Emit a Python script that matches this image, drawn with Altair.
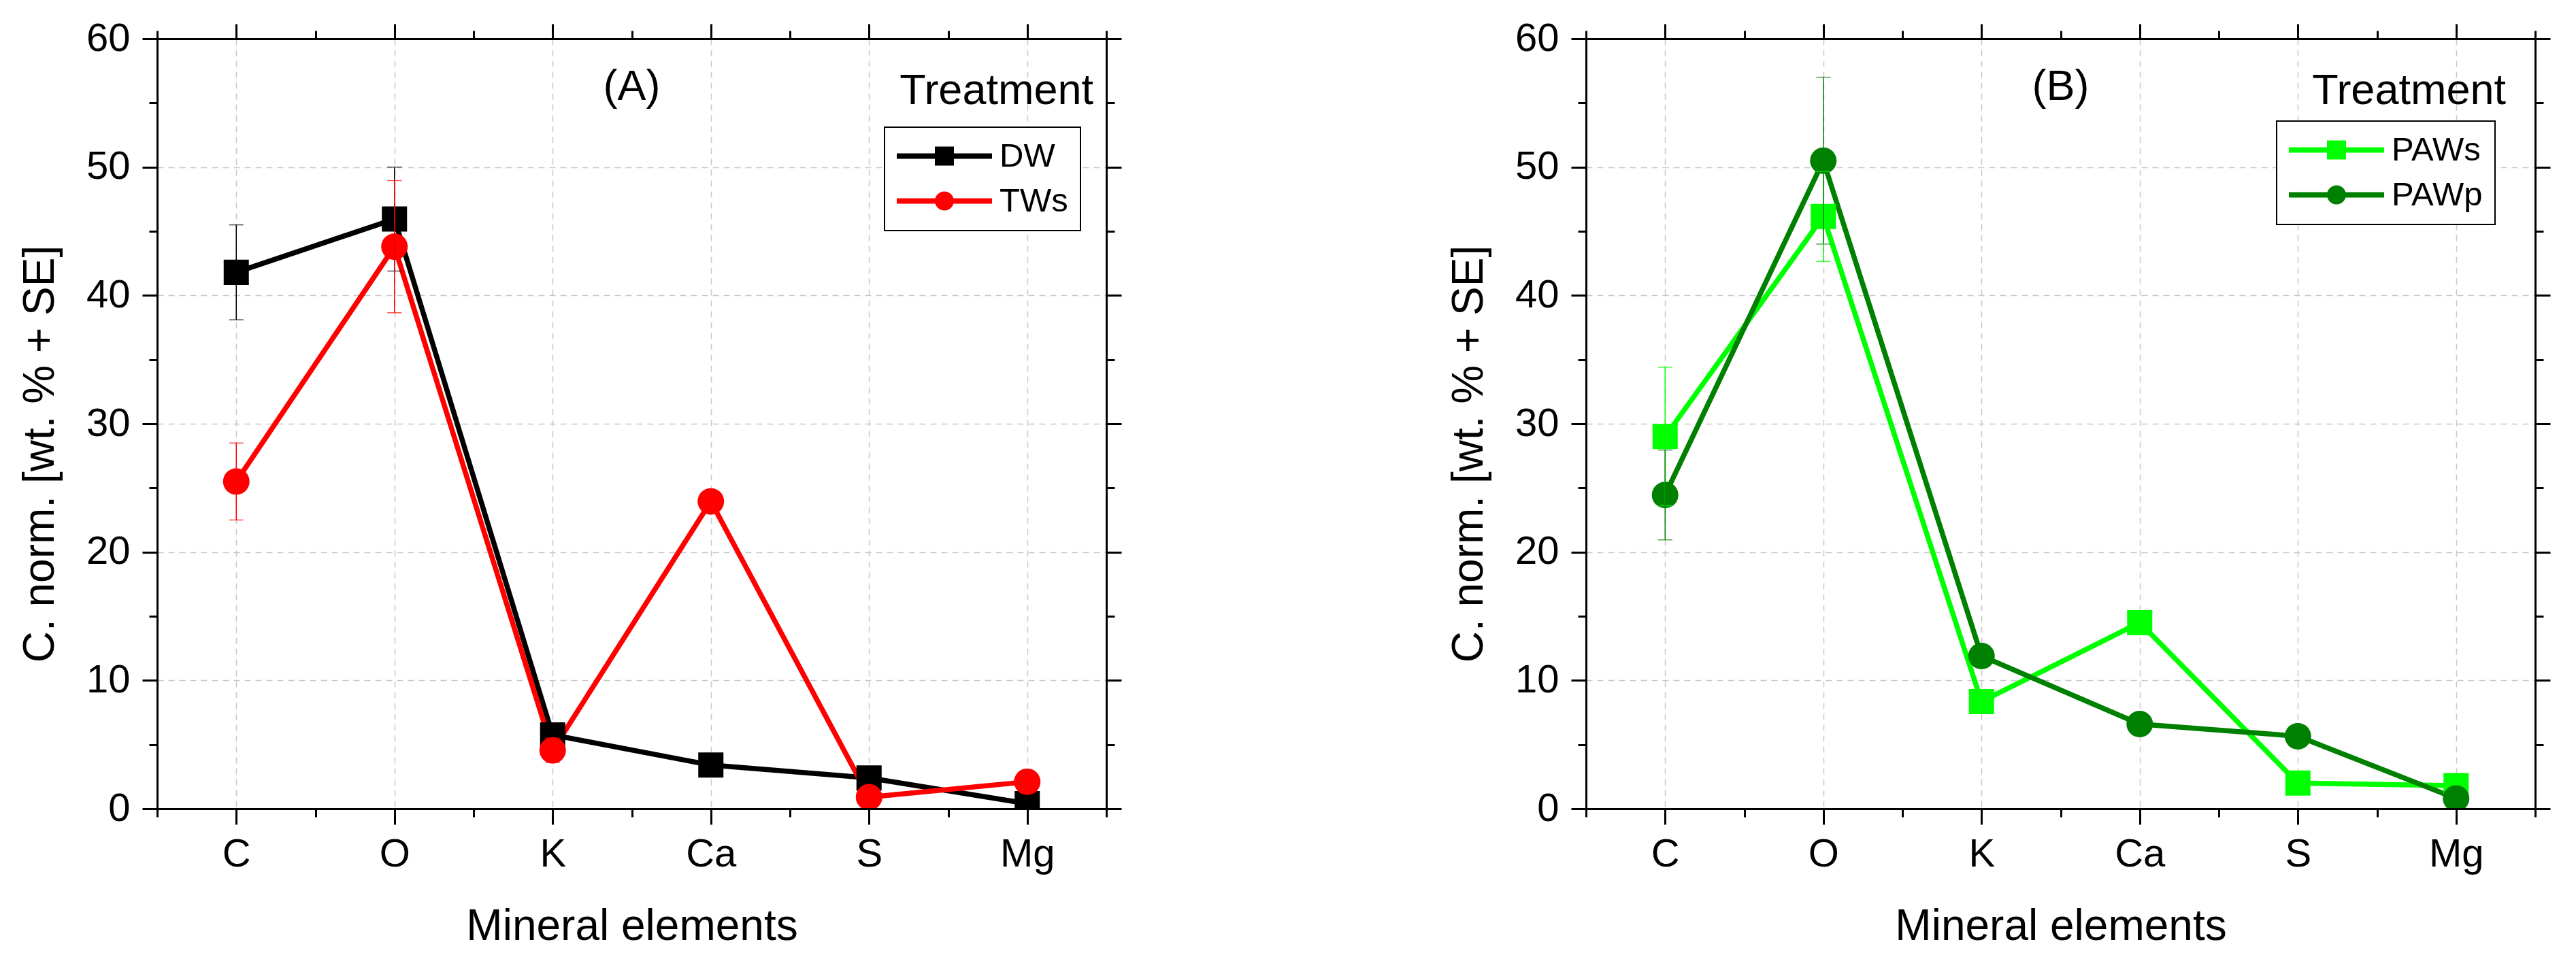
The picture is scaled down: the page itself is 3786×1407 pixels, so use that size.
import json
import altair as alt
import pandas as pd

# ---------------- data ----------------
elements = ["C", "O", "K", "Ca", "S", "Mg"]

series_a = ["DW", "TWs"]
dw_mean = [41.8, 45.95, 5.75, 3.4, 2.4, 0.4]
dw_se = [3.7, 4.05, 0.0, 0.0, 0.0, 0.0]
tws_mean = [25.5, 43.8, 4.55, 23.95, 0.9, 2.1]
tws_se = [3.0, 5.15, 0.95, 0.0, 0.0, 0.0]
colors_a = ["#000000", "#ff0000"]

series_b = ["PAWs", "PAWp"]
paws_mean = [29.0, 46.15, 8.35, 14.5, 2.0, 1.8]
paws_se = [5.4, 3.5, 0.0, 0.0, 0.0, 0.0]
pawp_mean = [24.45, 50.5, 11.9, 6.6, 5.65, 0.8]
pawp_se = [3.5, 6.5, 0.0, 0.0, 0.0, 0.0]
colors_b = ["#00ff00", "#008000"]

panel_labels = ["(A)", "(B)"]
legend_title = "Treatment"
x_title = "Mineral elements"
y_title = "C. norm. [wt. % + SE]"
y_major = [0, 10, 20, 30, 40, 50, 60]
y_minor = [5, 15, 25, 35, 45, 55]

FONT = "Liberation Sans"
W, H = 1395, 1132

# legend glyphs: line with marker (custom symbol paths)
SQ_PATH = "M-1,-0.163H4.714V0.163H-1Z M1.286,-0.571H2.428V0.571H1.286Z"
CI_PATH = ("M-1,-0.163H4.714V0.163H-1Z "
           "M2.428,0A0.571,0.571,0,1,1,1.286,0A0.571,0.571,0,1,1,2.428,0Z")


def make_df(series, means, ses):
    rows = []
    for s, m, e in zip(series, means, ses):
        for i, el in enumerate(elements):
            rows.append({"element": el, "idx": i, "series": s, "value": m[i],
                         "se": e[i], "lo": m[i] - e[i], "hi": m[i] + e[i]})
    return pd.DataFrame(rows)


x_major = list(range(len(elements)))
x_minor = [i - 0.5 for i in range(len(elements) + 1)]
label_expr = json.dumps(elements) + "[datum.value]"

common = dict(tickColor="black", domainColor="black", tickWidth=3, domainWidth=3,
              title=None, grid=False, zindex=1)

ax_bottom = alt.Axis(orient="bottom", values=x_major, labelExpr=label_expr,
                     tickColor="black", domainColor="black", tickWidth=3, domainWidth=3,
                     tickSize=23, labelFontSize=58, labelFont=FONT, labelColor="black",
                     labelPadding=15, labelFlush=False, labelOverlap=False,
                     title=x_title, titleFont=FONT, titleFontSize=64,
                     titleFontWeight="normal", titleColor="black", titlePadding=45,
                     grid=False, zindex=1)
ax_left = alt.Axis(orient="left", values=y_major,
                   tickColor="black", domainColor="black", tickWidth=3, domainWidth=3,
                   tickSize=22, labelFontSize=58, labelFont=FONT, labelColor="black",
                   labelPadding=18, labelFlush=False, labelOverlap=False,
                   title=y_title, titleFont=FONT, titleFontSize=64,
                   titleFontWeight="normal", titleColor="black", titlePadding=35,
                   titleY=610, grid=False, zindex=1)
ax_grid_x = alt.Axis(orient="bottom", values=x_major, grid=True, gridColor="#c8c8c8",
                     gridDash=[9, 7], gridWidth=1.5, ticks=False, labels=False,
                     domain=False, title=None, zindex=0)
ax_grid_y = alt.Axis(orient="left", values=y_major, grid=True, gridColor="#c8c8c8",
                     gridDash=[9, 7], gridWidth=1.5, ticks=False, labels=False,
                     domain=False, title=None, zindex=0)
ax_bottom_minor = alt.Axis(orient="bottom", values=x_minor, labels=False, tickSize=12,
                           domain=False, **common)
ax_left_minor = alt.Axis(orient="left", values=y_minor, labels=False, tickSize=12,
                         domain=False, **common)
ax_top = alt.Axis(orient="top", values=x_major, labels=False, tickSize=22,
                  domain=True, **common)
ax_right = alt.Axis(orient="right", values=y_major, labels=False, tickSize=22,
                    domain=True, **common)
ax_top_minor = alt.Axis(orient="top", values=x_minor, labels=False, tickSize=12,
                        domain=False, **common)
ax_right_minor = alt.Axis(orient="right", values=y_minor, labels=False, tickSize=12,
                          domain=False, **common)


def panel(df, series, colors, label, leg_x, leg_y, tr_x):
    xs = alt.Scale(domain=[-0.5, len(elements) - 0.5], nice=False, zero=False)
    ys = alt.Scale(domain=[0, 60], nice=False, zero=False)
    X = lambda ax=None: alt.X("idx:Q", scale=xs, axis=ax)
    Y = lambda f="value:Q", ax=None: alt.Y(f, scale=ys, axis=ax)

    base = alt.Chart(df)
    layers = []
    # axes-only (invisible) layers: grid, main axes, minor ticks, mirrored frame
    for axx, axy in [(ax_grid_x, ax_grid_y), (ax_bottom, ax_left),
                     (ax_bottom_minor, ax_left_minor), (ax_top, ax_right),
                     (ax_top_minor, ax_right_minor)]:
        layers.append(base.mark_point(opacity=0).encode(x=X(axx), y=Y("value:Q", axy)))
    # connecting lines
    for s, c in zip(series, colors):
        layers.append(base.transform_filter(alt.datum.series == s)
                      .mark_line(strokeWidth=7.5, color=c, clip=True)
                      .encode(x=X(), y=Y()))
    # markers
    layers.append(base.transform_filter(alt.datum.series == series[0])
                  .mark_square(size=1370, opacity=1, color=colors[0], clip=True)
                  .encode(x=X(), y=Y()))
    layers.append(base.transform_filter(alt.datum.series == series[1])
                  .mark_circle(size=1520, opacity=1, color=colors[1], clip=True)
                  .encode(x=X(), y=Y()))
    # error bars (on top)
    for s, c in zip(series, colors):
        err = base.transform_filter((alt.datum.series == s) & (alt.datum.se > 0))
        layers.append(err.mark_rule(strokeWidth=1.5, color=c)
                      .encode(x=X(), y=Y("lo:Q"), y2="hi:Q"))
        for f in ["lo:Q", "hi:Q"]:
            layers.append(err.mark_tick(orient="horizontal", size=21, thickness=1.5,
                                        color=c)
                          .encode(x=X(), y=Y(f)))
    # legend (fill + shape channels only used here)
    leg = alt.Legend(title=None, orient="none", legendX=leg_x, legendY=leg_y,
                     symbolSize=2401, symbolStrokeWidth=0, symbolOpacity=1,
                     labelFont=FONT, labelFontSize=49, labelColor="black",
                     labelOffset=102, rowPadding=16, padding=18,
                     strokeColor="black", fillColor="white")
    layers.append(base.transform_filter("false").mark_point(filled=True, opacity=1)
                  .encode(fill=alt.Fill("series:N",
                                        scale=alt.Scale(domain=series, range=colors),
                                        legend=leg),
                          shape=alt.Shape("series:N",
                                          scale=alt.Scale(domain=series,
                                                          range=[SQ_PATH, CI_PATH]),
                                          legend=leg)))
    # annotations
    txt = alt.Chart(pd.DataFrame({"t": [label]}))
    layers.append(txt.mark_text(font=FONT, fontSize=63, align="center",
                                baseline="alphabetic", color="black")
                  .encode(x=alt.value(W / 2), y=alt.value(90), text="t:N"))
    ttl = alt.Chart(pd.DataFrame({"t": [legend_title]}))
    layers.append(ttl.mark_text(font=FONT, fontSize=63, align="right",
                                baseline="alphabetic", color="black")
                  .encode(x=alt.value(tr_x), y=alt.value(96), text="t:N"))

    return (alt.layer(*layers)
            .resolve_axis(x="independent", y="independent")
            .properties(width=W, height=H))


df_a = make_df(series_a, [dw_mean, tws_mean], [dw_se, tws_se])
df_b = make_df(series_b, [paws_mean, pawp_mean], [paws_se, pawp_se])

pa = panel(df_a, series_a, colors_a, panel_labels[0], 1069, 130, 1376)
pb = panel(df_b, series_b, colors_b, panel_labels[1], 1015, 121, 1352)

chart = (alt.hconcat(pa, pb, spacing=477)
         .resolve_scale(fill="independent", shape="independent")
         .properties(padding={"left": 19, "top": 20, "right": 5, "bottom": 5},
                     background="white")
         .configure_view(stroke=None)
         .configure_legend(strokeWidth=2))

chart.save("out.html", embed_options={"renderer": "svg", "actions": False})
